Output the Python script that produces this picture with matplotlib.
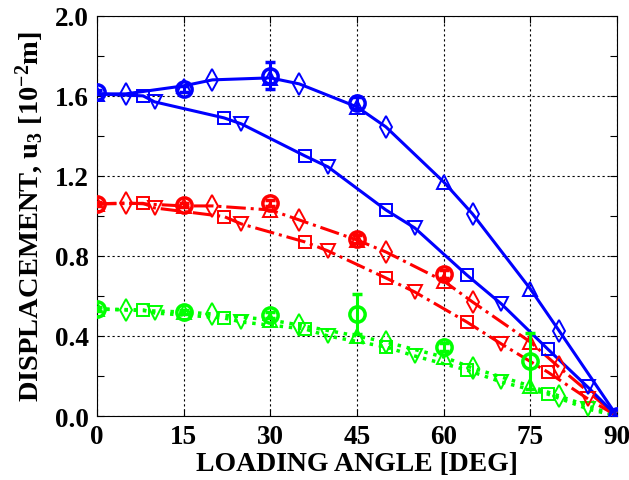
import matplotlib
matplotlib.use('Agg')
import matplotlib.pyplot as plt
from matplotlib.ticker import MultipleLocator

plt.rcParams['mathtext.fontset'] = 'custom'
plt.rcParams['mathtext.rm'] = 'Liberation Serif:bold'
plt.rcParams['mathtext.it'] = 'Liberation Serif:bold'
plt.rcParams['mathtext.bf'] = 'Liberation Serif:bold'

# ---------------------------------------------------------------------------
# Data
# ---------------------------------------------------------------------------
ANG_TRI_UP = [0, 15, 30, 45, 60, 75, 90]
ANG_DIAM = [5, 20, 35, 50, 65, 80]
ANG_SQ = [8, 22, 36, 50, 64, 78]
ANG_TRI_DN = [10, 25, 40, 55, 70, 85]

BLUE_TRI_UP = [1.61, 1.65, 1.69, 1.545, 1.17, 0.635, 0.0]
BLUE_DIAM = [1.61, 1.68, 1.66, 1.445, 1.01, 0.425]
BLUE_SQ = [1.60, 1.49, 1.30, 1.03, 0.705, 0.335]
BLUE_TRI_DN = [1.57, 1.46, 1.245, 0.94, 0.56, 0.143]

RED_TRI_UP = [1.06, 1.05, 1.03, 0.88, 0.675, 0.37, 0.0]
RED_DIAM = [1.065, 1.05, 0.98, 0.82, 0.57, 0.243]
RED_SQ = [1.063, 0.997, 0.87, 0.69, 0.47, 0.22]
RED_TRI_DN = [1.04, 0.96, 0.825, 0.62, 0.36, 0.085]

GREEN_TRI_UP = [0.535, 0.52, 0.48, 0.40, 0.295, 0.15, 0.0]
GREEN_DIAM = [0.53, 0.51, 0.455, 0.37, 0.24, 0.10]
GREEN_SQ = [0.53, 0.49, 0.435, 0.345, 0.23, 0.11]
GREEN_TRI_DN = [0.515, 0.47, 0.40, 0.30, 0.17, 0.035]

# experiments (circles with error bars)
BLUE_EXP_ANG = [0, 15, 30, 45, 90]
BLUE_EXP = [1.62, 1.635, 1.70, 1.565, 0.0]
BLUE_EXP_ERR = [0.01, 0.015, 0.067, 0.03, 0.0]

RED_EXP_ANG = [0, 15, 30, 45, 60]
RED_EXP = [1.06, 1.055, 1.065, 0.885, 0.71]
RED_EXP_ERR = [0.01, 0.01, 0.015, 0.02, 0.02]

GREEN_EXP_ANG = [0, 15, 30, 45, 60, 75]
GREEN_EXP = [0.535, 0.52, 0.505, 0.51, 0.345, 0.277]
GREEN_EXP_ERR = [0.01, 0.01, 0.015, 0.10, 0.02, 0.14]

BLUE = '#0000ff'
RED = '#ff0000'
GREEN = '#00ff00'


def merge(a1, v1, a2, v2, start=None, end=None):
    pts = sorted(list(zip(a1, v1)) + list(zip(a2, v2)))
    if start is not None and pts[0][0] != start[0]:
        pts.insert(0, start)
    if end is not None and pts[-1][0] != end[0]:
        pts.append(end)
    return [p[0] for p in pts], [p[1] for p in pts]


def draw_set(ax, color, ls, tri_up, diam, sq, tri_dn, exp_a, exp_v, exp_e, lw):
    mk = dict(mfc='none', mec=color, mew=1.4, ls='none', zorder=4)
    # upper curve: triangles + diamonds
    xa, ya = merge(ANG_TRI_UP, tri_up, ANG_DIAM, diam)
    ax.plot(xa, ya, color=color, ls=ls, lw=lw, zorder=3)
    # lower curve: squares + triangles down
    xb, yb = merge(ANG_SQ, sq, ANG_TRI_DN, tri_dn,
                   start=(0, tri_up[0]), end=(90, 0.0))
    ax.plot(xb, yb, color=color, ls=ls, lw=lw, zorder=3)

    ax.plot(ANG_TRI_UP, tri_up, marker='^', ms=9.5, **mk)
    ax.plot(ANG_DIAM, diam, marker='d', ms=11, **mk)
    ax.plot(ANG_SQ, sq, marker='s', ms=8, **mk)
    ax.plot(ANG_TRI_DN, tri_dn, marker='v', ms=9.5, **mk)

    ax.errorbar(exp_a, exp_v, yerr=exp_e, fmt='o', ms=11, mfc='none',
                mec=color, mew=2.5, ecolor=color, elinewidth=2.2,
                capsize=3.5, capthick=2.2, zorder=5)


fig = plt.figure(figsize=(6.29, 4.81), dpi=100)
ax = fig.add_axes([0.154, 0.133, 0.827, 0.832])

draw_set(ax, GREEN, ':', GREEN_TRI_UP, GREEN_DIAM, GREEN_SQ, GREEN_TRI_DN,
         GREEN_EXP_ANG, GREEN_EXP, GREEN_EXP_ERR, lw=2.5)
draw_set(ax, RED, '-.', RED_TRI_UP, RED_DIAM, RED_SQ, RED_TRI_DN,
         RED_EXP_ANG, RED_EXP, RED_EXP_ERR, lw=2.2)
draw_set(ax, BLUE, '-', BLUE_TRI_UP, BLUE_DIAM, BLUE_SQ, BLUE_TRI_DN,
         BLUE_EXP_ANG, BLUE_EXP, BLUE_EXP_ERR, lw=2.2)

ax.set_xlim(0, 90)
ax.set_ylim(0, 2.0)
ax.set_xticks([0, 15, 30, 45, 60, 75, 90])
ax.set_yticks([0.0, 0.4, 0.8, 1.2, 1.6, 2.0])
ax.yaxis.set_minor_locator(MultipleLocator(0.2))
ax.set_yticklabels(['0.0', '0.4', '0.8', '1.2', '1.6', '2.0'])
ax.grid(True, which='major', color='black', ls=(0, (2, 2.5)), lw=0.8)
ax.tick_params(which='both', direction='in', top=True, right=True,
               length=5, width=0.8)

for lab in ax.get_xticklabels() + ax.get_yticklabels():
    lab.set_fontfamily('Liberation Serif')
    lab.set_fontweight('bold')
    lab.set_fontsize(19.5)
ax.tick_params(axis='x', pad=6)
ax.tick_params(axis='y', pad=6)

ax.set_xlabel('LOADING ANGLE [DEG]', labelpad=1,
              family='Liberation Serif', weight='bold', size=20)
ax.set_ylabel(r'DISPLACEMENT, u$_\mathregular{3}$ [10$^\mathregular{-2}$m]',
              labelpad=6, family='Liberation Serif', weight='bold', size=20.5)

for sp in ax.spines.values():
    sp.set_linewidth(0.8)

fig.savefig('out.png', dpi=100, facecolor='white')
